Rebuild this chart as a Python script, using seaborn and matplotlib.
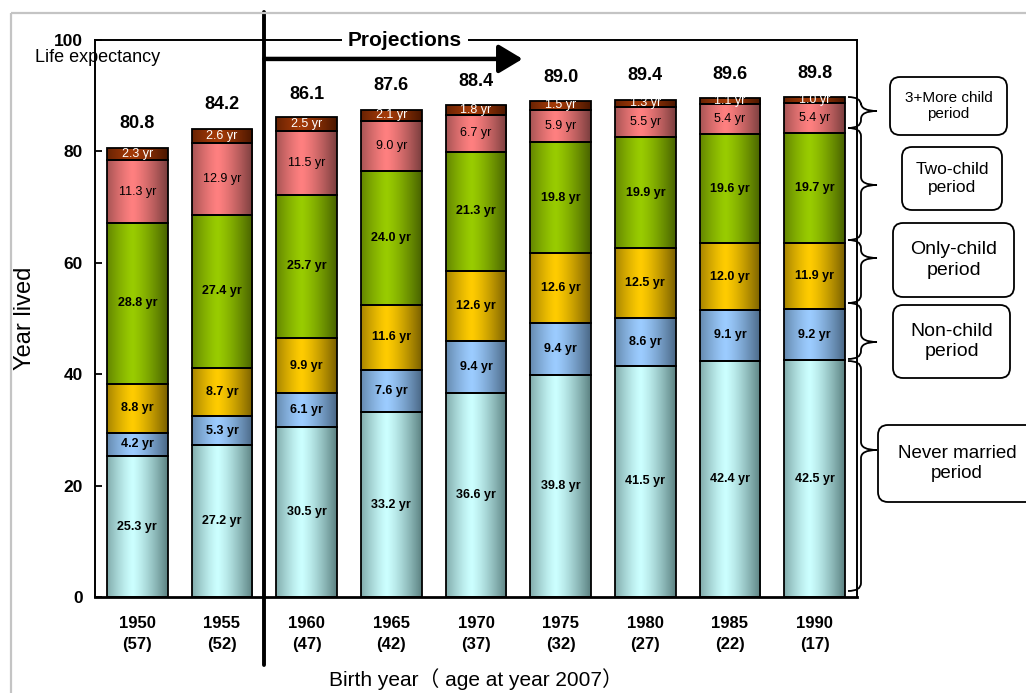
import numpy as np
import pandas as pd
import matplotlib
matplotlib.use("Agg")
import matplotlib.pyplot as plt
import matplotlib.transforms as mtransforms
from matplotlib.patches import Rectangle, FancyBboxPatch, PathPatch
from matplotlib.path import Path
from matplotlib.colors import to_rgb
import seaborn as sns

# ---- data ---------------------------------------------------------------
birth_years = ["1950", "1955", "1960", "1965", "1970", "1975", "1980", "1985", "1990"]
ages_2007 = ["57", "52", "47", "42", "37", "32", "27", "22", "17"]
life_expectancy = [80.8, 84.2, 86.1, 87.6, 88.4, 89.0, 89.4, 89.6, 89.8]

never_married = [25.3, 27.2, 30.5, 33.2, 36.6, 39.8, 41.5, 42.4, 42.5]
non_child = [4.2, 5.3, 6.1, 7.6, 9.4, 9.4, 8.6, 9.1, 9.2]
only_child = [8.8, 8.7, 9.9, 11.6, 12.6, 12.6, 12.5, 12.0, 11.9]
two_child = [28.8, 27.4, 25.7, 24.0, 21.3, 19.8, 19.9, 19.6, 19.7]
three_plus_child = [11.3, 12.9, 11.5, 9.0, 6.7, 5.9, 5.5, 5.4, 5.4]
later_years = [2.3, 2.6, 2.5, 2.1, 1.8, 1.5, 1.3, 1.1, 1.0]

tick_labels = [f"{y}\n({a})" for y, a in zip(birth_years, ages_2007)]

# (values, light centre colour, dark edge colour, text colour, text weight)
layers = [
    (never_married, "#CCFFFF", "#5C8282", "black", "bold"),
    (non_child, "#9CCCFF", "#4A6886", "black", "bold"),
    (only_child, "#FFCC00", "#7A6000", "black", "bold"),
    (two_child, "#99CC00", "#486200", "black", "bold"),
    (three_plus_child, "#FF8080", "#7A3E3E", "black", "normal"),
    (later_years, "#A33A08", "#4A1600", "white", "normal"),
]

W, H = 1026, 693
sns.set_theme(style="white")
plt.rcParams["font.family"] = ["Liberation Sans", "Noto Sans CJK JP", "DejaVu Sans"]
plt.rcParams.update({"text.color": "black", "axes.labelcolor": "black",
                     "xtick.color": "black", "ytick.color": "black"})

fig = plt.figure(figsize=(W / 100, H / 100), dpi=100)
ax = fig.add_axes([95 / W, 1 - 597 / H, (857 - 95) / W, (597 - 40) / H])

# pixel-space transform (origin top-left) for the decorations around the axes
px = mtransforms.Affine2D().scale(1 / W, -1 / H).translate(0, 1) + fig.transFigure


def cylinder_gradient(light, dark, n=96):
    t = np.linspace(0, 1, n)
    m = np.clip(np.abs(t - 0.42) / 0.58, 0, 1) ** 1.3
    lo, hi = np.array(to_rgb(light)), np.array(to_rgb(dark))
    return (lo[None, :] * (1 - m[:, None]) + hi[None, :] * m[:, None])[None, :, :]


bottom = np.zeros(len(birth_years))
bar_width = 0.72
for vals, light, dark, tcolor, tweight in layers:
    vals = np.asarray(vals)
    n_before = len(ax.patches)
    sns.barplot(x=tick_labels, y=vals, bottom=bottom, color=light, saturation=1,
                width=bar_width, edgecolor="black", linewidth=1.3, ax=ax, errorbar=None)
    grad = cylinder_gradient(light, dark)
    for patch in ax.patches[n_before:]:
        x0, y0 = patch.get_x(), patch.get_y()
        w, h = patch.get_width(), patch.get_height()
        patch.set_facecolor("none")
        patch.set_zorder(3)
        img = ax.imshow(grad, extent=[x0, x0 + w, y0, y0 + h], aspect="auto",
                        interpolation="bilinear", zorder=2)
        img.set_clip_path(patch)
    for i, (b, v) in enumerate(zip(bottom, vals)):
        ax.text(i, b + v / 2, f"{v:.1f} yr", ha="center", va="center",
                fontsize=9, fontweight=tweight, color=tcolor, zorder=4)
    bottom = bottom + vals

for i, le in enumerate(life_expectancy):
    ax.text(i, le + 4.2, f"{le:.1f}", ha="center", va="center",
            fontsize=13, fontweight="bold", color="black", zorder=4)

ax.set_xlim(-0.5, len(birth_years) - 0.5)
ax.set_ylim(0, 100)
ax.set_yticks(np.arange(0, 101, 20))
ax.set_yticklabels([str(v) for v in range(0, 101, 20)], fontsize=12.5, fontweight="bold")
ax.tick_params(axis="y", direction="in", length=5, width=1.3, pad=9, left=True, colors="black")
ax.tick_params(axis="x", length=0, pad=14, colors="black")
for lbl in ax.get_xticklabels():
    lbl.set_fontsize(12)
    lbl.set_fontweight("bold")
    lbl.set_linespacing(1.45)
for s in ax.spines.values():
    s.set_color("black")
    s.set_linewidth(1.4)
ax.spines["bottom"].set_linewidth(2)

ax.set_ylabel("Year lived", fontsize=17)
ax.yaxis.set_label_coords(-0.077, 0.5)
ax.set_xlabel("Birth year（ age at year 2007）", fontsize=15)
ax.xaxis.set_label_coords(0.5, -0.128)

# projection divider, arrow and caption
ax.plot([1.5, 1.5], [-12.2, 105], color="black", lw=2.8, clip_on=False, zorder=6)
ax.annotate("", xy=(4.55, 96.6), xytext=(1.5, 96.6), annotation_clip=False,
            arrowprops=dict(arrowstyle="-|>,head_length=0.6,head_width=0.36",
                            lw=3.2, color="black", mutation_scale=24, shrinkA=0, shrinkB=0))
ax.text(3.16, 100, "Projections", ha="center", va="center", fontsize=15, fontweight="bold",
        zorder=7, clip_on=False, bbox=dict(facecolor="white", edgecolor="none", pad=4))

fig.text(98, 58, "Life expectancy", transform=px, ha="center", va="center", fontsize=13)

# outer frame
fig.add_artist(Rectangle((11, 13), 1040, 700, transform=px, fill=False,
                         edgecolor="#c4c4c4", lw=1.6))


def brace(y_top, y_bot, y_tip, x0=848, xb=861, xt=877, r=8):
    verts = [(x0, y_top), (xb, y_top), (xb, y_top + r),
             (xb, y_tip - r), (xb, y_tip), (xt, y_tip),
             (xb, y_tip), (xb, y_tip + r),
             (xb, y_bot - r), (xb, y_bot), (x0, y_bot)]
    codes = [Path.MOVETO, Path.CURVE3, Path.CURVE3,
             Path.LINETO, Path.CURVE3, Path.CURVE3,
             Path.CURVE3, Path.CURVE3,
             Path.LINETO, Path.CURVE3, Path.CURVE3]
    fig.add_artist(PathPatch(Path(verts, codes), transform=px, fill=False,
                             edgecolor="black", lw=1.3))


brace(97, 128, 111)
brace(128, 240, 185)
brace(240, 303, 258)
brace(303, 359, 342)
brace(361, 591, 450)

boxes = [
    ((890, 77, 117, 58), "3+More child\nperiod", 11),
    ((902, 147, 100, 63), "Two-child\nperiod", 12.5),
    ((893, 223, 121, 74), "Only-child\nperiod", 14),
    ((893, 305, 117, 73), "Non-child\nperiod", 14),
    ((878, 425, 190, 77), "Never married\nperiod", 13.5),
]
for (bx, by, bw, bh), label, fs in boxes:
    fig.add_artist(FancyBboxPatch((bx, by), bw, bh, transform=px,
                                  boxstyle="round,pad=0,rounding_size=10",
                                  facecolor="white", edgecolor="black", lw=1.3))
    cx = bx + bw / 2 if bx + bw < W else 957
    fig.text(cx, by + bh / 2, label, transform=px, ha="center", va="center",
             fontsize=fs, linespacing=1.25)

fig.savefig("out.png", dpi=100)
